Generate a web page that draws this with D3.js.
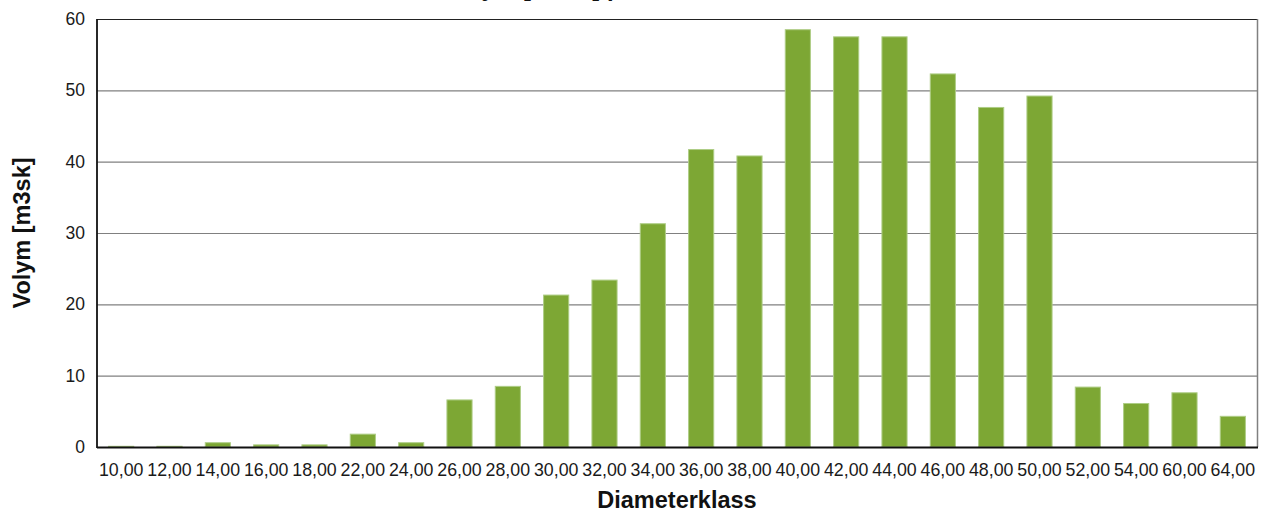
<!DOCTYPE html>
<html>
<head>
<meta charset="utf-8">
<script src="https://cdn.jsdelivr.net/npm/d3@7"></script>
<style>
  html, body { margin: 0; padding: 0; background: #fff; }
  svg { display: block; font-family: "Liberation Sans", Arial, sans-serif; }
</style>
</head>
<body>
<svg id="chart" width="1264" height="512"></svg>
<script>
const categories = ["10,00","12,00","14,00","16,00","18,00","22,00","24,00","26,00","28,00","30,00","32,00","34,00","36,00","38,00","40,00","42,00","44,00","46,00","48,00","50,00","52,00","54,00","60,00","64,00"];
const values = [0.1, 0.1, 0.6, 0.3, 0.3, 1.8, 0.6, 6.6, 8.5, 21.3, 23.4, 31.3, 41.7, 40.8, 58.5, 57.5, 57.5, 52.3, 47.6, 49.2, 8.4, 6.1, 7.6, 4.3];
const yTicks = [0, 10, 20, 30, 40, 50, 60];
const chartTitle = "Volym [m3sk] per diameterklass";
const xTitle = "Diameterklass";
const yTitle = "Volym [m3sk]";

(function () {
const svg = d3.select("#chart");
const mLeft = 97, mRight = 1257, mTop = 19, mBottom = 447;

const x = d3.scaleBand().domain(categories).range([mLeft, mRight]).paddingInner(0.48).paddingOuter(0.24);
const y = d3.scaleLinear().domain([0, 60]).range([mBottom, mTop]);

// gridlines
svg.append("g").selectAll("line").data(yTicks).join("line")
  .attr("x1", mLeft).attr("x2", mRight)
  .attr("y1", d => y(d) + 0.5).attr("y2", d => y(d) + 0.5)
  .attr("stroke", d => d === 60 ? "#222" : "#808080").attr("stroke-width", 1.2);

// right border
svg.append("line").attr("x1", mRight + 0.5).attr("x2", mRight + 0.5).attr("y1", mTop).attr("y2", mBottom)
  .attr("stroke", "#808080").attr("stroke-width", 1.5);

// bars
svg.append("g").selectAll("rect").data(values).join("rect")
  .attr("x", (d, i) => x(categories[i]))
  .attr("width", x.bandwidth())
  .attr("y", d => y(d))
  .attr("height", d => y(0) - y(d))
  .attr("fill", "#7DA734")
  .attr("stroke", "#AECD85").attr("stroke-width", 1);

// axes lines
svg.append("line").attr("x1", mLeft).attr("x2", mLeft).attr("y1", mTop).attr("y2", mBottom + 1)
  .attr("stroke", "#111").attr("stroke-width", 1.8);
svg.append("line").attr("x1", mLeft).attr("x2", mRight + 1).attr("y1", mBottom + 0.5).attr("y2", mBottom + 0.5)
  .attr("stroke", "#111").attr("stroke-width", 2.2);

// y axis labels
const yAxis = d3.axisLeft(y).tickValues(yTicks).tickSize(0).tickPadding(12);
const gy = svg.append("g").attr("transform", `translate(${mLeft},0)`).call(yAxis);
gy.select(".domain").remove();
gy.selectAll("text").attr("font-size", "17.5px").attr("fill", "#1a1a1a")
  .attr("font-family", "Liberation Sans, Arial, sans-serif");

// x axis labels
const xAxis = d3.axisBottom(x).tickSize(0).tickPadding(16);
const gx = svg.append("g").attr("transform", `translate(0,${mBottom})`).call(xAxis);
gx.select(".domain").remove();
gx.selectAll("text").attr("font-size", "17.8px").attr("fill", "#1a1a1a")
  .attr("font-family", "Liberation Sans, Arial, sans-serif");

// titles
svg.append("text").attr("x", (mLeft + mRight) / 2).attr("y", 508)
  .attr("text-anchor", "middle").attr("font-size", "23.5px").attr("font-weight", "bold")
  .attr("fill", "#111").text(xTitle);

svg.append("text").attr("transform", `translate(30,${(mTop + mBottom) / 2}) rotate(-90)`)
  .attr("text-anchor", "middle").attr("font-size", "23.5px").attr("font-weight", "bold")
  .attr("fill", "#111").text(yTitle);

svg.append("text").attr("x", 446).attr("y", -4)
  .attr("text-anchor", "start").attr("font-size", "24px").attr("font-weight", "bold")
  .attr("fill", "#111").text(chartTitle);
})();
</script>
</body>
</html>
